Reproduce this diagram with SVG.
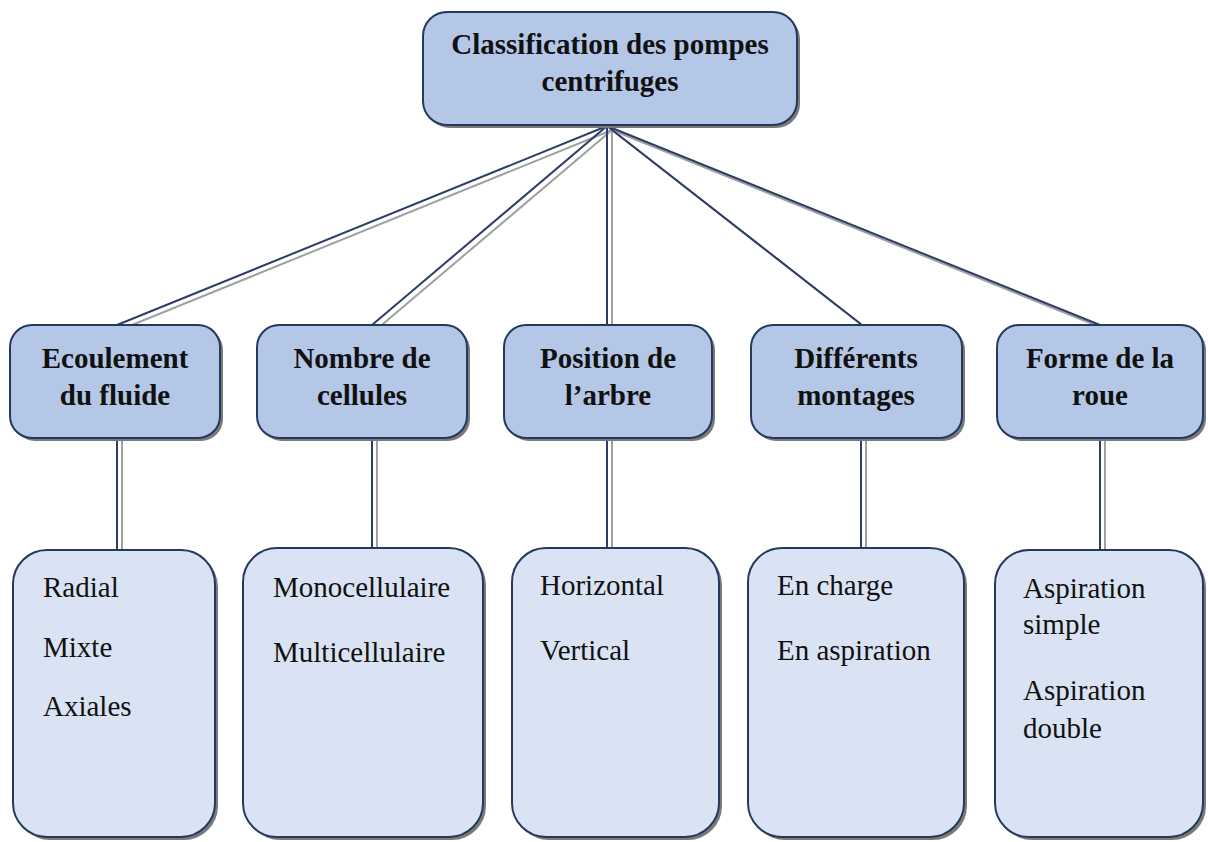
<svg xmlns="http://www.w3.org/2000/svg" width="1208" height="842" viewBox="0 0 1208 842">
<style>
.sh{fill:#7a7a7a;}
.top{fill:#b4c7e7;stroke:#25395f;stroke-width:2;}
.bot{fill:#dae3f3;stroke:#25395f;stroke-width:2;}
.cd{stroke:#2c3d66;stroke-width:2;fill:none;}
.cg{stroke:#a0a0a0;stroke-width:2;fill:none;}
.tb{font-family:"Liberation Serif","Times New Roman",serif;font-weight:bold;font-size:29px;fill:#111;text-anchor:middle;}
.tr{font-family:"Liberation Serif","Times New Roman",serif;font-size:29px;fill:#111;}
</style>
<rect width="1208" height="842" fill="#ffffff"/>
<g id="connectors">
<g transform="translate(5,4)">
<line class="cg" x1="607" y1="126" x2="117" y2="325"/>
<line class="cg" x1="607" y1="126" x2="372" y2="325"/>
<line class="cg" x1="607" y1="126" x2="607" y2="325"/>
<line class="cg" x1="607" y1="126" x2="862" y2="325"/>
<line class="cg" x1="607" y1="126" x2="1100" y2="325"/>
</g>
<line class="cd" x1="607" y1="126" x2="117" y2="325"/>
<line class="cd" x1="607" y1="126" x2="372" y2="325"/>
<line class="cd" x1="607" y1="126" x2="607" y2="325"/>
<line class="cd" x1="607" y1="126" x2="862" y2="325"/>
<line class="cd" x1="607" y1="126" x2="1100" y2="325"/>
<line class="cg" x1="122" y1="438" x2="122" y2="552"/>
<line class="cd" x1="117" y1="438" x2="117" y2="550"/>
<line class="cg" x1="377" y1="438" x2="377" y2="552"/>
<line class="cd" x1="372" y1="438" x2="372" y2="550"/>
<line class="cg" x1="612" y1="438" x2="612" y2="552"/>
<line class="cd" x1="607" y1="438" x2="607" y2="550"/>
<line class="cg" x1="866" y1="438" x2="866" y2="552"/>
<line class="cd" x1="861" y1="438" x2="861" y2="550"/>
<line class="cg" x1="1105" y1="438" x2="1105" y2="552"/>
<line class="cd" x1="1100" y1="438" x2="1100" y2="550"/>
</g>
<g id="root">
<rect class="sh" x="426" y="15" width="374" height="113" rx="24"/>
<rect class="top" x="423" y="12" width="374" height="113" rx="24"/>
<text class="tb" x="610" y="54">Classification des pompes</text>
<text class="tb" x="610" y="91">centrifuges</text>
</g>
<g id="n1">
<rect class="sh" x="13" y="328" width="210" height="113" rx="22"/>
<rect class="top" x="10" y="325" width="210" height="113" rx="22"/>
<text class="tb" x="115" y="368">Ecoulement</text>
<text class="tb" x="115" y="405">du fluide</text>
</g>
<g id="n2">
<rect class="sh" x="260" y="328" width="210" height="113" rx="22"/>
<rect class="top" x="257" y="325" width="210" height="113" rx="22"/>
<text class="tb" x="362" y="368">Nombre de</text>
<text class="tb" x="362" y="405">cellules</text>
</g>
<g id="n3">
<rect class="sh" x="507" y="328" width="208" height="113" rx="22"/>
<rect class="top" x="504" y="325" width="208" height="113" rx="22"/>
<text class="tb" x="608" y="368">Position de</text>
<text class="tb" x="608" y="405">l’arbre</text>
</g>
<g id="n4">
<rect class="sh" x="754" y="328" width="211" height="113" rx="22"/>
<rect class="top" x="751" y="325" width="211" height="113" rx="22"/>
<text class="tb" x="856" y="368">Différents</text>
<text class="tb" x="856" y="405">montages</text>
</g>
<g id="n5">
<rect class="sh" x="1000" y="328" width="206" height="113" rx="22"/>
<rect class="top" x="997" y="325" width="206" height="113" rx="22"/>
<text class="tb" x="1100" y="368">Forme de la</text>
<text class="tb" x="1100" y="405">roue</text>
</g>
<g id="b1">
<rect class="sh" x="16" y="553" width="202" height="287" rx="34"/>
<rect class="bot" x="13" y="550" width="202" height="287" rx="34"/>
<text class="tr" x="43" y="597">Radial</text>
<text class="tr" x="43" y="657">Mixte</text>
<text class="tr" x="43" y="716">Axiales</text>
</g>
<g id="b2">
<rect class="sh" x="246" y="551" width="240" height="289" rx="34"/>
<rect class="bot" x="243" y="548" width="240" height="289" rx="34"/>
<text class="tr" x="273" y="597">Monocellulaire</text>
<text class="tr" x="273" y="662">Multicellulaire</text>
</g>
<g id="b3">
<rect class="sh" x="515" y="551" width="207" height="289" rx="34"/>
<rect class="bot" x="512" y="548" width="207" height="289" rx="34"/>
<text class="tr" x="540" y="595">Horizontal</text>
<text class="tr" x="540" y="660">Vertical</text>
</g>
<g id="b4">
<rect class="sh" x="751" y="551" width="216" height="289" rx="34"/>
<rect class="bot" x="748" y="548" width="216" height="289" rx="34"/>
<text class="tr" x="777" y="595">En charge</text>
<text class="tr" x="777" y="660">En aspiration</text>
</g>
<g id="b5">
<rect class="sh" x="998" y="553" width="208" height="287" rx="34"/>
<rect class="bot" x="995" y="550" width="208" height="287" rx="34"/>
<text class="tr" x="1023" y="598">Aspiration</text>
<text class="tr" x="1023" y="634">simple</text>
<text class="tr" x="1023" y="700">Aspiration</text>
<text class="tr" x="1023" y="738">double</text>
</g>
</svg>
